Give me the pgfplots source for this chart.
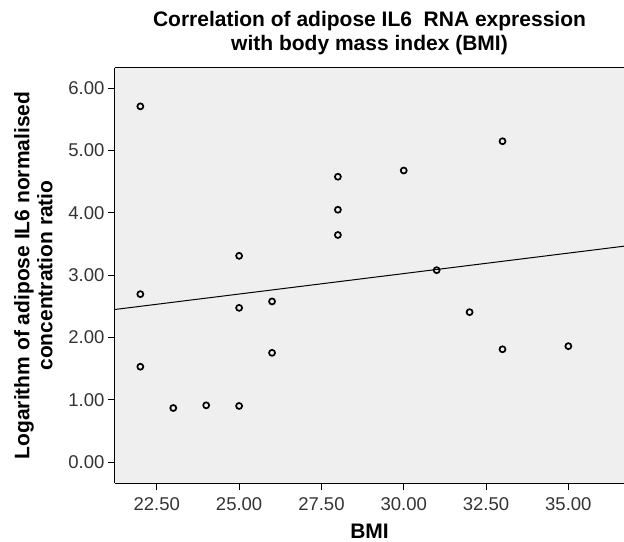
\documentclass[border=0pt]{standalone}
\usepackage{pgfplots}
\pgfplotsset{compat=1.18}
\usepackage{fontspec}
\setmainfont{Liberation Sans}
\definecolor{plotbg}{RGB}{239,239,239}

\begin{document}
\begin{tikzpicture}
\begin{axis}[
  scale only axis,
  width=509pt, height=415pt,
  xmin=21.23, xmax=36.69,
  ymin=-0.337, ymax=6.326,
  axis x line*=bottom, axis y line*=left,
  axis line style={line width=1pt, -},
  axis background/.style={fill=plotbg},
  xtick={22.5,25,27.5,30,32.5,35},
  ytick={0,1,2,3,4,5,6},
  tick align=outside,
  major tick length=7pt,
  tick style={line width=1pt, black},
  /pgf/number format/fixed,
  /pgf/number format/fixed zerofill,
  /pgf/number format/precision=2,
  /pgf/number format/assume math mode=true,
  xticklabel style={yshift=-4pt},
  ticklabel style={font=\fontsize{18.5}{20}\selectfont, text=black!80},
  xlabel={BMI},
  xlabel style={font=\fontsize{21}{24}\selectfont\bfseries,
    at={(rel axis cs:0.5,0)}, anchor=base, yshift=-55pt},
  ylabel={Logarithm of adipose IL6 normalised\\concentration ratio},
  ylabel style={font=\fontsize{21}{23}\selectfont\bfseries, align=center,
    at={(rel axis cs:0,0.5)}, anchor=south, yshift=59pt},
  title={Correlation of adipose IL6\ \ RNA expression\\with body mass index (BMI)},
  title style={font=\fontsize{21}{24}\selectfont\bfseries, align=center,
    at={(rel axis cs:0.5,1)}, anchor=south, yshift=4pt},
  clip=false,
]
% BMI vs log IL6 ratio
\addplot[only marks, mark=o, mark size=3pt, mark options={line width=1.7pt, black}]
  coordinates {
  (22,5.71) (33,5.15) (28,4.58) (30,4.68) (28,4.05) (28,3.645)
  (25,3.31) (22,2.695) (25,2.475) (26,2.578) (31,3.08) (32,2.406)
  (26,1.753) (22,1.53) (33,1.81) (35,1.86) (23,0.867) (24,0.91) (25,0.90)
  };
% fit line
\addplot[black, line width=1pt] coordinates {(21.23,2.449) (36.69,3.465)};
\draw[line width=1pt] (rel axis cs:0,1) -- (rel axis cs:1,1);
\coordinate (bl) at (rel axis cs:0,0);
\coordinate (tr) at (rel axis cs:1,1);
\end{axis}
\pgfresetboundingbox
\path[use as bounding box] ([xshift=-115pt,yshift=-58pt]bl) rectangle ([yshift=68pt]tr);
\end{tikzpicture}
\end{document}
